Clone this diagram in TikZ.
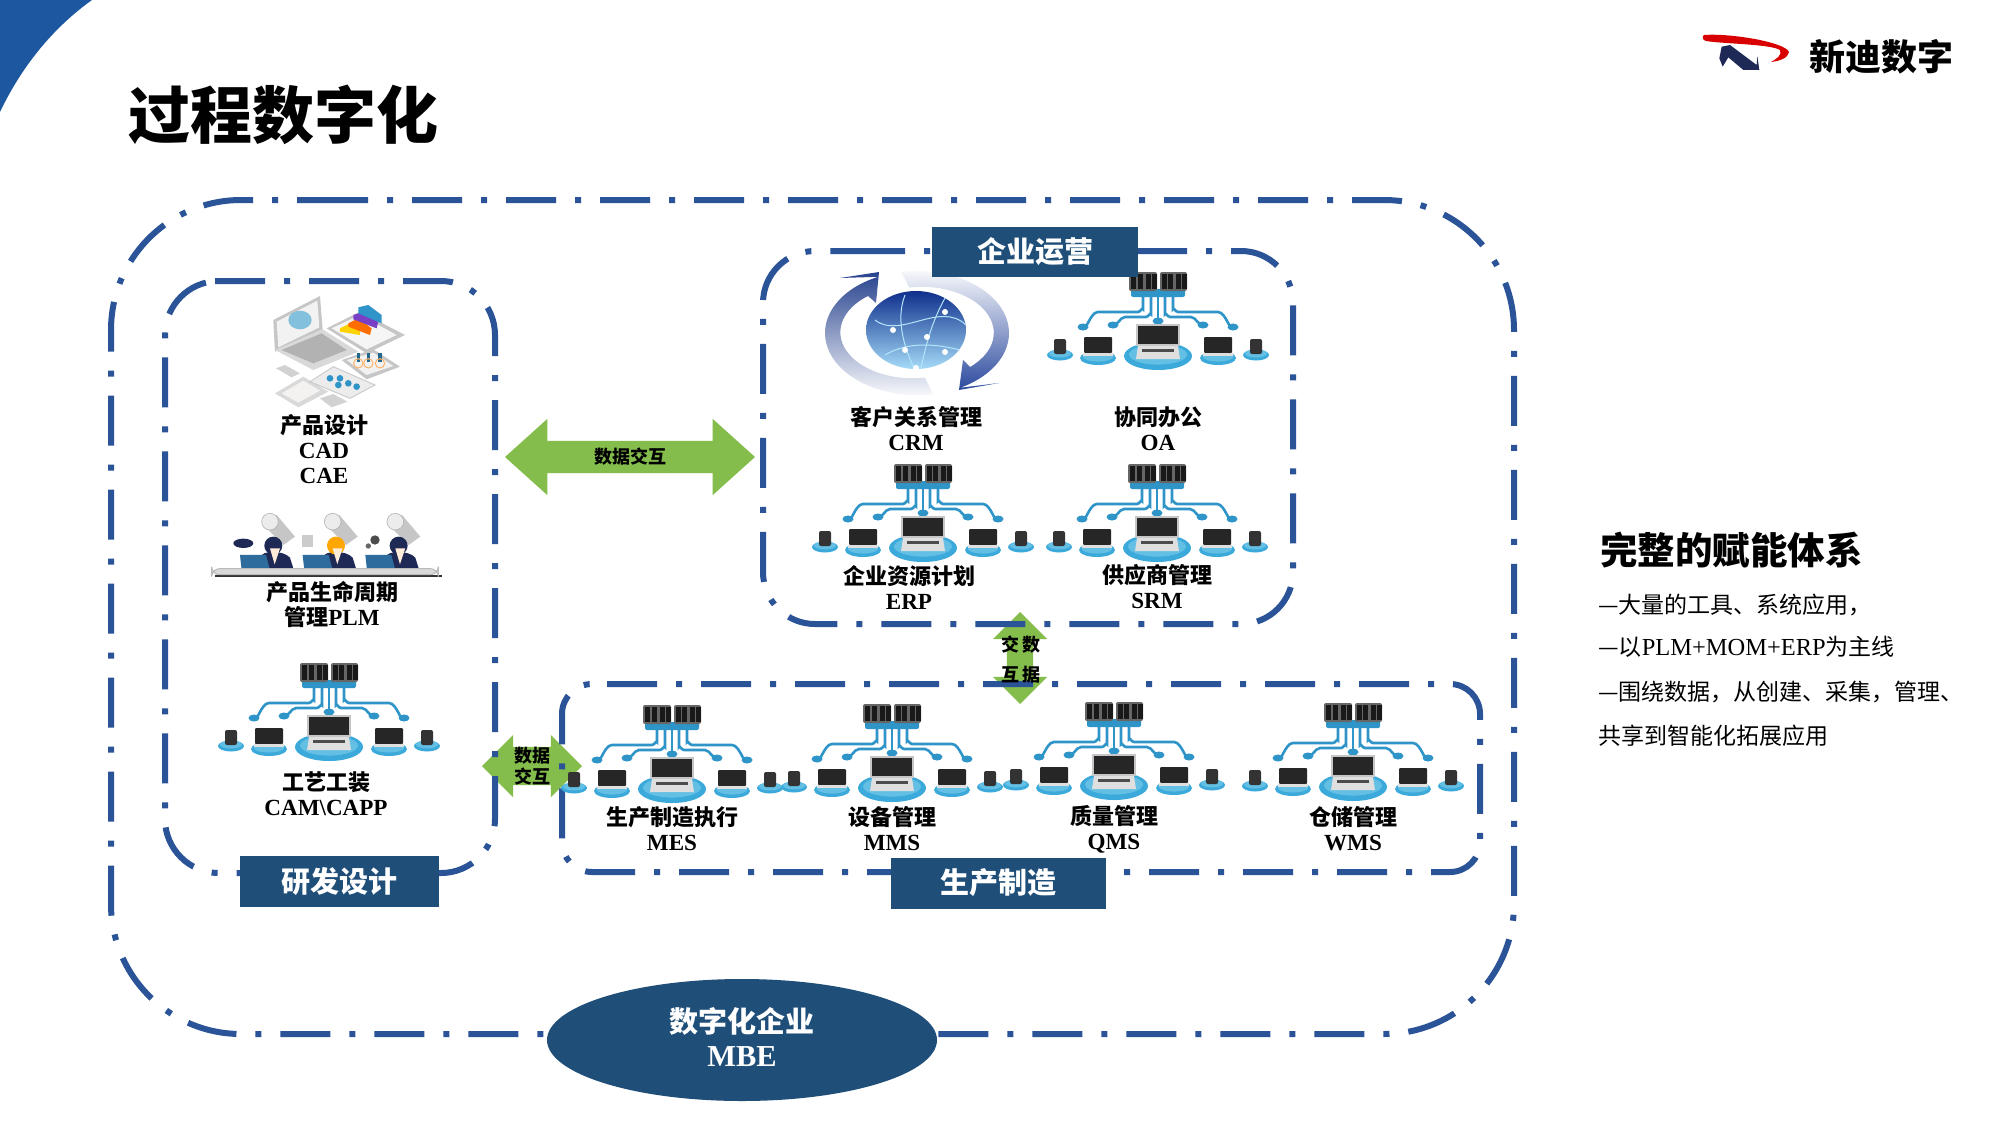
\documentclass[tikz,border=0pt]{standalone}
\usepackage{fontspec}
\setmainfont{Liberation Serif}[Scale=1.05]
\newfontfamily\cjk{Noto Sans CJK SC}
\usetikzlibrary{shapes.arrows,shapes.geometric}
\newcommand{\zh}[1]{{\cjk #1}}
\definecolor{panelblue}{HTML}{2B5397}
\definecolor{boxblue}{HTML}{1F4E79}
\definecolor{arrowgreen}{HTML}{84BD4C}
\definecolor{wireblue}{HTML}{2F95C8}
\definecolor{discblue}{HTML}{3BA9DA}
\definecolor{disclight}{HTML}{63BFE4}
\definecolor{cornerblue}{HTML}{1C57A0}
\definecolor{ringblue}{HTML}{2C4A9E}
\definecolor{agentnavy}{HTML}{1E2A55}
\definecolor{deskblue}{HTML}{2F6C9E}
\definecolor{globetop}{HTML}{0F2F8C}
\definecolor{globemid}{HTML}{1F6FCF}
\definecolor{globelow}{HTML}{A5DBF8}
\tikzset{
    panel/.style={draw=panelblue, line width=6pt, dash pattern=on 50pt off 19pt on 6pt off 19pt},
    titlebox/.style={fill=boxblue, text=white, font=\fontsize{29}{32}\selectfont\bfseries\cjk, inner sep=0pt},
    lab/.style={font=\fontsize{22}{25}\selectfont\bfseries, align=center, inner sep=0pt},
    arrowlab/.style={font=\fontsize{18}{21}\selectfont\bfseries\cjk, align=center, inner sep=0pt},
    bodytext/.style={font=\fontsize{23}{26}\selectfont, anchor=west, inner sep=0pt},
    flow/.style={double arrow, fill=arrowgreen, inner sep=0pt, double arrow tip angle=90},
    wire/.style={draw=wireblue, line width=2.6pt, line cap=round},
    netnode/.pic={
        % servers
        \fill[wireblue, rounded corners=2pt] (-27,17) rectangle (27,25);
        \fill[gray!80!black, rounded corners=2pt] (-29,0) rectangle (-1,19);
        \fill[gray!80!black, rounded corners=2pt] (2,0) rectangle (29,19);
        \foreach \s in {-27,-20,-12,-6,4,10,18,24} {
            \fill[black!90] (\s,2) rectangle (\s+4.5,17);
        }
        % wires
        \draw[wire] (-15,25) -- (-15,37) to[out=90,in=0] (-20,40) -- (-60,40) to[out=180,in=-70] (-75,54);
        \draw[wire] (15,25) -- (15,37) to[out=90,in=180] (20,40) -- (60,40) to[out=0,in=-110] (75,54);
        \draw[wire] (-7,25) -- (-7,42) to[out=90,in=0] (-12,45) -- (-33,45) to[out=180,in=-50] (-45,52);
        \draw[wire] (7,25) -- (7,42) to[out=90,in=180] (12,45) -- (33,45) to[out=0,in=-130] (45,52);
        \draw[wire] (0,25) -- (0,48);
        \foreach \s/\t in {-75/55,-45/53,0/49,45/53,75/55} {
            \fill[wireblue] (\s,\t) ellipse [x radius=5.5, y radius=3.5];
        }
        % discs
        \foreach \s/\t/\rx/\ry in {0/84/34/14,-60/86/18/7,60/86/18/7,-98/83/13/5.5,98/83/13/5.5} {
            \fill[discblue] (\s,\t) ellipse [x radius=\rx, y radius=\ry];
            \fill[disclight] (\s,\t-1.5) ellipse [x radius=\rx*0.85, y radius=\ry*0.72];
        }
        % centre laptop
        \fill[gray!45] (-22,52) rectangle (22,74);
        \fill[black!85] (-20,54) rectangle (20,72);
        \fill[gray!25] (-20,74) -- (20,74) -- (22,87) -- (-22,87) -- cycle;
        \fill[black!70] (-16,77) rectangle (16,80);
        % side laptops
        \foreach \s in {-60,60} {
            \fill[black!85, rounded corners=1pt] (\s-14,65) rectangle (\s+14,81);
            \fill[gray!25] (\s-15,81) rectangle (\s+15,84);
        }
        % phones
        \foreach \s in {-98,98} {
            \fill[black!80, rounded corners=2pt] (\s-6,67) rectangle (\s+6,82);
        }
    },
    agent/.pic={
        % spot and beam
        \fill[gray!45] (20,-20) -- (75,45) -- (40,70) -- (-15,15) -- cycle;
        \fill[gray!15, draw=gray!60, line width=0.6pt] (0,0) circle (25);
        % person
        \fill[agentnavy] (-30,108) .. controls (-25,85) and (40,85) .. (60,108) -- (70,140) -- (-30,140) -- cycle;
        \fill[#1] (10,72) circle (27);
        \fill[white!85!orange] (0,80) -- (30,80) -- (14,128) -- cycle;
        % laptop
        \fill[deskblue] (-90,100) -- (-12,100) -- (0,145) -- (-85,145) -- cycle;
    },
}
\begin{document}
\begin{tikzpicture}[x=1pt, y=-1pt]
    \useasboundingbox (0,0) rectangle (2000,1125);
    \fill[white] (0,0) rectangle (2000,1125);
    \fill[cornerblue] (0,0) -- (92,0) .. controls (50,30) and (20,70) .. (0,112) -- cycle;
    \node[font=\fontsize{62}{66}\selectfont\bfseries\cjk, anchor=west, inner sep=0pt] (title) at (128,115) {过程数字化};

    % logo
    \fill[red!85!black] (1704,35) .. controls (1730,33) and (1785,42) .. (1789,52) .. controls (1788,58) and (1780,61) .. (1771,62) .. controls (1778,58) and (1782,55) .. (1780,50) .. controls (1770,44) and (1725,44) .. (1706,41) .. controls (1702,40) and (1702,36) .. (1704,35) -- cycle;
    \begin{scope}[shift={(1680,0)}, scale=0.3333]
        \fill[agentnavy] (125,140) -- (150,135) -- (230,195) -- (232,168) -- (238,210) -- (190,210) -- (145,172) -- (128,200) -- (118,175) -- cycle;
    \end{scope}
    \node[font=\fontsize{36}{38}\selectfont\bfseries\cjk, inner sep=0pt] (logotext) at (1881,57) {新迪数字};

    % green arrows
    \node[flow, minimum height=250pt, double arrow head extend=22pt, double arrow tip angle=84] (mainflow) at (630,457) {\rule{0pt}{32pt}};
    \node[flow, minimum height=100pt, double arrow head extend=12pt] (sideflow) at (532,766) {\rule{0pt}{38pt}};
    \node[flow, minimum height=92pt, double arrow head extend=14pt, shape border rotate=90] (downflow) at (1020,658) {\rule{26pt}{0pt}};

    % panels
    \draw[panel, rounded corners=130pt] (318,200) -- (1514,200) -- (1514,1034) -- (111,1034) -- (111,200) -- (318,200);
    \draw[panel, rounded corners=54pt] (215,281) -- (495,281) -- (495,873) -- (165,873) -- (165,281) -- (215,281);
    \draw[panel, rounded corners=52pt] (855,251) -- (1293,251) -- (1293,624) -- (763,624) -- (763,251) -- (855,251);
    \draw[panel, rounded corners=30pt] (607,684) -- (1480,684) -- (1480,872) -- (562,872) -- (562,684) -- (607,684);

    % product design picture
    \begin{scope}[shift={(100,270)}, scale=0.3333]
        \fill[gray!30] (525,370) -- (610,320) -- (685,365) -- (595,412) -- cycle;
        \fill[red!10!gray!10] (545,370) -- (610,332) -- (660,362) -- (595,398) -- cycle;
        \fill[gray!35] (660,385) -- (700,372) -- (742,395) -- (695,412) -- cycle;
        \fill[gray!35] (528,295) -- (555,285) -- (600,310) -- (575,322) -- cycle;
        \fill[gray!15, draw=gray!40, line width=1pt] (630,335) -- (700,290) -- (825,345) -- (750,385) -- cycle;
        \foreach \s/\t in {690/325,720/325,745/340,770/350,715/345} {
            \fill[wireblue] (\s,\t) circle (10);
        }
        \fill[gray!45] (725,270) -- (820,238) -- (900,290) -- (800,328) -- cycle;
        \fill[gray!10] (740,270) -- (820,248) -- (880,288) -- (800,315) -- cycle;
        \foreach \s in {770,800,835} {
            \fill[wireblue!70!black] (\s,250) rectangle (\s+10,275);
            \draw[orange!60, line width=1pt] (\s+5,280) circle (14);
        }
        \fill[gray!45] (520,150) -- (660,78) -- (668,178) -- (525,245) -- cycle;
        \fill[gray!10] (530,155) -- (652,92) -- (658,172) -- (535,232) -- cycle;
        \fill[wireblue!60] (600,150) ellipse [x radius=35, y radius=28];
        \fill[gray!30] (525,240) -- (668,178) -- (775,245) -- (640,300) -- cycle;
        \fill[gray!60] (545,240) -- (665,190) -- (740,240) -- (640,280) -- cycle;
        \fill[gray!45] (680,175) -- (780,125) -- (915,195) -- (800,250) -- cycle;
        \fill[gray!8] (695,175) -- (780,135) -- (890,195) -- (800,238) -- cycle;
        \fill[yellow!70!orange] (720,175) -- (750,160) -- (780,180) -- (780,195) -- (720,185) -- cycle;
        \fill[orange!85!red] (745,160) -- (775,145) -- (815,175) -- (810,195) -- (745,170) -- cycle;
        \fill[violet!60!blue!75] (760,135) -- (790,125) -- (835,155) -- (830,175) -- (760,148) -- cycle;
        \fill[wireblue] (775,112) -- (805,105) -- (845,135) -- (845,160) -- (775,130) -- cycle;
    \end{scope}

    % lifecycle picture
    \begin{scope}[shift={(100,270)}, scale=0.3333]
        \pic[transform shape] (agent1) at (510,755) {agent={agentnavy}};
        \pic[transform shape] (agent2) at (698,755) {agent={orange!70!yellow}};
        \pic[transform shape] (agent3) at (886,755) {agent={agentnavy}};
        \fill[agentnavy] (430,820) ellipse [x radius=30, y radius=14];
        \fill[gray!40] (605,795) rectangle (640,830);
        \fill[black!70] (825,810) circle (14);
        \fill[black!60] (805,828) circle (8);
        \fill[black!80] (345,915) rectangle (1025,921);
        \fill[gray!30, draw=gray!55, line width=1pt, rounded corners=8] (335,896) rectangle (1015,914);
    \end{scope}

    % crm picture
    \shade[top color=ringblue!90!black, middle color=ringblue, bottom color=white] (917,333) ++(80:92 and 62) arc[start angle=80, end angle=245, x radius=92, y radius=62] -- (840,278) -- (879,272) -- (876,303) -- (868,296) arc[start angle=232, end angle=80, x radius=72, y radius=46] -- cycle;
    \shade[top color=white, middle color=ringblue!85, bottom color=ringblue] (917,333) ++(-100:92 and 62) arc[start angle=-100, end angle=62, x radius=92, y radius=62] -- (999,383) -- (959,390) -- (963,360) -- (970,367) arc[start angle=48, end angle=-100, x radius=72, y radius=46] -- cycle;
    \shade[top color=globetop, middle color=globemid, bottom color=globelow] (916,330) ellipse [x radius=50, y radius=39];
    \begin{scope}
        \clip (916,330) ellipse [x radius=50, y radius=39];
        \draw[white!70!cyan, line width=1pt] (875,320) .. controls (900,340) and (940,300) .. (966,325);
        \draw[white!70!cyan, line width=1pt] (885,355) .. controls (910,340) and (940,345) .. (960,350);
        \draw[white!70!cyan, line width=1pt] (905,295) .. controls (895,320) and (905,350) .. (915,370);
        \draw[white!70!cyan, line width=1pt] (945,298) .. controls (930,325) and (925,350) .. (920,372);
    \end{scope}
    \foreach \s/\t in {893/330,927/337,905/350,945/352,916/368,945/312} {
        \fill[white] (\s,\t) circle (3);
    }

    % network pictures
    \pic (oa) at (1158,272) {netnode};
    \pic (erp) at (923,464) {netnode};
    \pic (srm) at (1157,464) {netnode};
    \pic (process) at (329,663) {netnode};
    \pic (mes) at (672,705) {netnode};
    \pic (mms) at (892,704) {netnode};
    \pic (qms) at (1114,702) {netnode};
    \pic (wms) at (1353,703) {netnode};

    % boxes
    \node[titlebox, minimum width=206pt, minimum height=50pt] (operate) at (1035,252) {企业运营};
    \node[titlebox, minimum width=215pt, minimum height=51pt] (produce) at (998,883) {生产制造};
    \node[titlebox, minimum width=199pt, minimum height=51pt] (research) at (339,881) {研发设计};
    \node[ellipse, fill=boxblue, minimum width=390pt, minimum height=122pt, inner sep=0pt] (mbe) at (742,1040) {};
    \node[text=white, inner sep=0pt, align=center, font=\fontsize{29}{33.5}\selectfont\bfseries] (mbelab) at (742,1037) {\zh{数字化企业}\\MBE};

    % labels
    \node[lab] (cad) at (324,449) {\zh{产品设计}\\CAD\\CAE};
    \node[lab] (plm) at (332,604) {\zh{产品生命周期}\\\zh{管理}PLM};
    \node[lab] (capp) at (326,794) {\zh{工艺工装}\\CAM\textbackslash CAPP};
    \node[lab] (crm) at (916,429) {\zh{客户关系管理}\\CRM};
    \node[lab] (oalab) at (1158,429) {\zh{协同办公}\\OA};
    \node[lab] (erplab) at (909,587) {\zh{企业资源计划}\\ERP};
    \node[lab] (srmlab) at (1157,587) {\zh{供应商管理}\\SRM};
    \node[lab] (meslab) at (672,829) {\zh{生产制造执行}\\MES};
    \node[lab] (mmslab) at (892,829) {\zh{设备管理}\\MMS};
    \node[lab] (qmslab) at (1114,829) {\zh{质量管理}\\QMS};
    \node[lab] (wmslab) at (1353,829) {\zh{仓储管理}\\WMS};
    \node[arrowlab] (mainlab) at (630,457) {数据交互};
    \node[arrowlab] (sidelab) at (532,766) {数据\\交互};
    \node[arrowlab, anchor=center] (downtop) at (1021,645) {交\,数};
    \node[arrowlab, anchor=center] (downbot) at (1021,675) {互\,据};

    % side text
    \node[font=\fontsize{37.5}{40}\selectfont\bfseries\cjk, anchor=west, inner sep=0pt] (sidehead) at (1600,550) {完整的赋能体系};
    \node[bodytext] (line1) at (1598,605) {\zh{—大量的工具、系统应用，}};
    \node[bodytext] (line2) at (1598,647) {\zh{—以}{\fontsize{23.3}{26}\selectfont PLM+MOM+ERP}\zh{为主线}};
    \node[bodytext] (line3) at (1598,692) {\zh{—围绕数据，从创建、采集，管理、}};
    \node[bodytext] (line4) at (1598,736) {\zh{共享到智能化拓展应用}};
\end{tikzpicture}
\end{document}
